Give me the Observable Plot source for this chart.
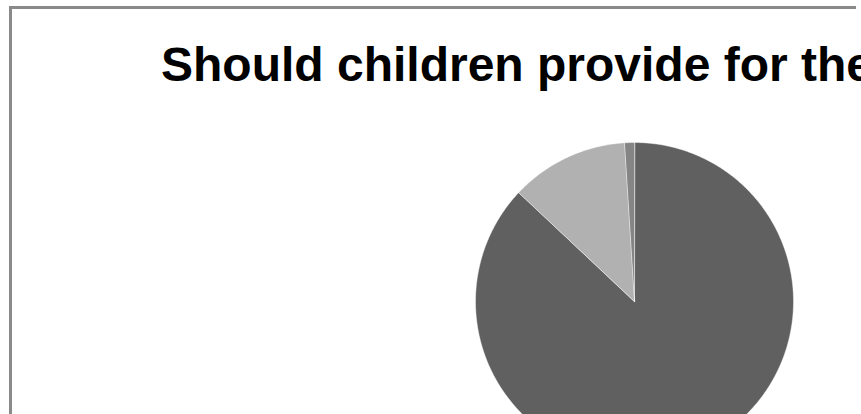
<!DOCTYPE html>
<html>
<head>
<meta charset="utf-8">
<script src="https://cdn.jsdelivr.net/npm/d3@7"></script>
<script src="https://cdn.jsdelivr.net/npm/@observablehq/plot@0.6"></script>
<style>
  html, body { margin: 0; padding: 0; background: #fff; overflow: hidden; width: 861px; height: 414px; }
  #frame { position: absolute; left: 9px; top: 6px; width: 844px; height: 500px;
           border-top: 3px solid #8a8a8a; border-left: 3px solid #8a8a8a; }
  #title { position: absolute; left: 161px; top: 41px; font-family: "Liberation Sans", Arial, sans-serif;
           font-weight: bold; font-size: 48px; line-height: 48px; white-space: nowrap; color: #000; }
  #chart { position: absolute; left: 0; top: 100px; }
</style>
</head>
<body>
<div id="frame"></div>
<div id="title">Should children provide for the</div>
<div id="chart"></div>
<script>
const categories = ["Yes", "No", "Don't know"];
const shares = [87, 12, 1];
const colors = ["#606060", "#b1b1b1", "#858585"];

const arcs = d3.pie().sort(null).startAngle(0).endAngle(2 * Math.PI)(shares);
const pts = [];
arcs.forEach((a, i) => {
  const cat = categories[i];
  pts.push({cat, x: 0, y: 0});
  const n = Math.max(2, Math.ceil((a.endAngle - a.startAngle) / 0.01));
  for (let k = 0; k <= n; k++) {
    const t = a.startAngle + (a.endAngle - a.startAngle) * k / n;
    pts.push({cat, x: Math.sin(t), y: Math.cos(t)});
  }
});

const cx = 634, cy = 201, r = 159;
const chart = Plot.plot({
  width: 861,
  height: 314,
  margin: 0,
  x: {domain: [-1, 1], range: [cx - r, cx + r], axis: null},
  y: {domain: [-1, 1], range: [cy + r, cy - r], axis: null},
  color: {domain: categories, range: colors},
  marks: [
    Plot.line(pts, {x: "x", y: "y", z: "cat", fill: "cat", stroke: "white", strokeWidth: 0.75, strokeOpacity: 0.6, curve: "linear-closed"})
  ]
});
chart.style.overflow = "visible";
document.getElementById("chart").appendChild(chart);
</script>
</body>
</html>
